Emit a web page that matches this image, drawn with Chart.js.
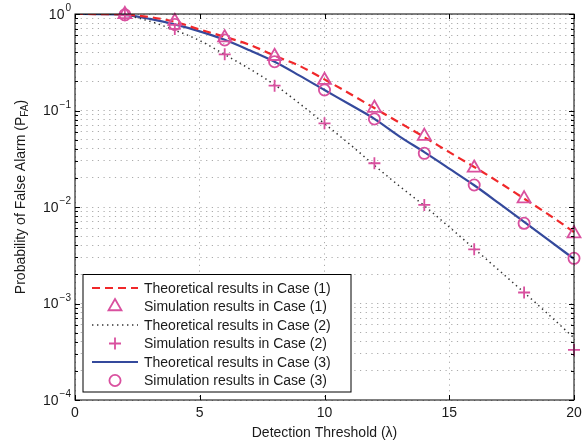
<!DOCTYPE html>
<html>
<head>
<meta charset="utf-8">
<script src="https://cdn.jsdelivr.net/npm/chart.js@4.4.0/dist/chart.umd.min.js"></script>
<style>
    html, body { margin: 0; padding: 0; background: #fff; }
    #wrap { width: 588px; height: 447px; }
</style>
</head>
<body>
<div id="wrap"><canvas id="pfa-chart"></canvas></div>
<script>
// detection threshold values of the theoretical curves
const thresholds = [0, 1, 2, 3, 4, 5, 6, 7, 8, 9, 10, 11, 12, 13, 14, 15, 16, 17, 18, 19, 20];
const theoryCase1 = [1.0, 0.999, 0.985, 0.93, 0.83, 0.69, 0.58, 0.48, 0.37, 0.29, 0.21, 0.15, 0.106, 0.075, 0.053, 0.037, 0.026, 0.018, 0.0122, 0.0083, 0.0055];
const theoryCase2 = [1.0, 0.999, 0.97, 0.84, 0.68, 0.53, 0.38, 0.27, 0.185, 0.118, 0.073, 0.045, 0.027, 0.0165, 0.0103, 0.0062, 0.0037, 0.0022, 0.0013, 0.00076, 0.00044];
const theoryCase3 = [1.0, 0.998, 0.98, 0.89, 0.78, 0.66, 0.54, 0.42, 0.32, 0.23, 0.163, 0.116, 0.082, 0.054, 0.037, 0.025, 0.0168, 0.0109, 0.0070, 0.0045, 0.0029];

// simulation points
const simThresholds = [2, 4, 6, 8, 10, 12, 14, 16, 18, 20];
const simCase1 = [0.99, 0.842, 0.569, 0.365, 0.206, 0.106, 0.0542, 0.0254, 0.0122, 0.0053];
const simCase2 = [0.97, 0.70, 0.382, 0.181, 0.0737, 0.0284, 0.0105, 0.00364, 0.0013, 0.00033];
const simCase3 = [0.98, 0.78, 0.538, 0.32, 0.163, 0.0817, 0.036, 0.0169, 0.00678, 0.00294];

const xTicks = [0, 5, 10, 15, 20];
const yDecades = [-4, -3, -2, -1, 0];

const legendLabels = [
    'Theoretical results in Case (1)',
    'Simulation results in Case (1)',
    'Theoretical results in Case (2)',
    'Simulation results in Case (2)',
    'Theoretical results in Case (3)',
    'Simulation results in Case (3)'
];

const FONT = "'Liberation Sans', Arial, Helvetica, sans-serif";
const RED = '#f0282a';
const BLUE = '#34499c';
const PINK = '#d9509f';
const DOTS = '#333333';

function pairs(xs, ys) {
    return xs.map((x, i) => ({ x: x, y: ys[i] }));
}

let lineSet = (label, values, color, dash, width) => ({
    label: label,
    data: pairs(thresholds, values),
    borderColor: color,
    borderWidth: width,
    borderDash: dash,
    pointRadius: 0,
    fill: false,
    cubicInterpolationMode: 'monotone',
    order: 2
});
let markerSet = (label, values, style, radius) => ({
    label: label,
    data: pairs(simThresholds, values),
    showLine: false,
    pointStyle: style,
    pointRadius: radius,
    pointBorderWidth: 1.8,
    pointBorderColor: PINK,
    pointBackgroundColor: 'rgba(0,0,0,0)',
    borderColor: PINK,
    clip: false,
    order: 1
});

const datasets = [
    lineSet(legendLabels[0], theoryCase1, RED, [8, 5], 2.2),
    markerSet(legendLabels[1], simCase1, 'triangle', 7.5),
    lineSet(legendLabels[2], theoryCase2, DOTS, [1.4, 3.6], 1.5),
    markerSet(legendLabels[3], simCase2, 'cross', 6),
    lineSet(legendLabels[4], theoryCase3, BLUE, [], 2.2),
    markerSet(legendLabels[5], simCase3, 'circle', 5.6)
];

function drawMarker(ctx, style, x, y, r) {
    ctx.beginPath();
    if (style === 'triangle') {
        ctx.moveTo(x, y - r);
        ctx.lineTo(x + r * Math.sin(2 * Math.PI / 3), y + r / 2);
        ctx.lineTo(x - r * Math.sin(2 * Math.PI / 3), y + r / 2);
        ctx.closePath();
    } else if (style === 'cross') {
        ctx.moveTo(x - r, y); ctx.lineTo(x + r, y);
        ctx.moveTo(x, y - r); ctx.lineTo(x, y + r);
    } else {
        ctx.arc(x, y, r, 0, Math.PI * 2);
    }
    ctx.stroke();
}

const decorations = {
    id: 'decorations',
    afterDraw(chart) {
        const ctx = chart.ctx;
        const a = chart.chartArea;
        const xs = chart.scales.x;
        const ys = chart.scales.y;
        ctx.save();

        // frame and inner tick marks
        ctx.strokeStyle = '#000';
        ctx.lineWidth = 1;
        ctx.setLineDash([]);
        ctx.strokeRect(a.left, a.top, a.right - a.left, a.bottom - a.top);
        ctx.beginPath();
        xTicks.forEach(v => {
            let px = Math.round(xs.getPixelForValue(v)) + 0.5;
            ctx.moveTo(px, a.bottom); ctx.lineTo(px, a.bottom - 5);
            ctx.moveTo(px, a.top); ctx.lineTo(px, a.top + 5);
        });
        ys.ticks.forEach(t => {
            let lg = Math.log10(t.value);
            let len = Math.abs(lg - Math.round(lg)) < 1e-6 ? 5 : 3;
            let py = Math.round(ys.getPixelForValue(t.value)) + 0.5;
            ctx.moveTo(a.left, py); ctx.lineTo(a.left + len, py);
            ctx.moveTo(a.right, py); ctx.lineTo(a.right - len, py);
        });
        ctx.stroke();

        // x tick labels
        ctx.fillStyle = '#1a1a1a';
        ctx.font = '14px ' + FONT;
        ctx.textAlign = 'center';
        ctx.textBaseline = 'middle';
        xTicks.forEach(v => ctx.fillText(String(v), xs.getPixelForValue(v), a.bottom + 13));

        // y tick labels 10^k
        yDecades.forEach(k => {
            let py = ys.getPixelForValue(Math.pow(10, k));
            let sup = k === 0 ? '0' : '\u2212' + Math.abs(k);
            ctx.font = '10px ' + FONT;
            let supW = ctx.measureText(sup).width;
            let right = a.left - 4;
            ctx.textAlign = 'left';
            ctx.textBaseline = 'alphabetic';
            ctx.fillText(sup, right - supW, py - 3);
            ctx.font = '14px ' + FONT;
            ctx.textAlign = 'right';
            ctx.textBaseline = 'middle';
            ctx.fillText('10', right - supW - 1, py + 1);
        });

        // axis titles
        ctx.font = '14px ' + FONT;
        ctx.textAlign = 'center';
        ctx.textBaseline = 'middle';
        ctx.fillText('Detection Threshold (\u03bb)', (a.left + a.right) / 2, a.bottom + 33);

        ctx.save();
        ctx.translate(21, (a.top + a.bottom) / 2 - 10);
        ctx.rotate(-Math.PI / 2);
        ctx.textBaseline = 'middle';
        ctx.textAlign = 'left';
        const partA = 'Probability of False Alarm (P';
        const partB = 'FA';
        const partC = ')';
        ctx.font = '14px ' + FONT;
        let wA = ctx.measureText(partA).width;
        let wC = ctx.measureText(partC).width;
        ctx.font = '10px ' + FONT;
        let wB = ctx.measureText(partB).width;
        let x0 = -(wA + wB + wC) / 2;
        ctx.font = '14px ' + FONT;
        ctx.fillText(partA, x0, 0);
        ctx.font = '10px ' + FONT;
        ctx.fillText(partB, x0 + wA, 4);
        ctx.font = '14px ' + FONT;
        ctx.fillText(partC, x0 + wA + wB, 0);
        ctx.restore();

        // legend box
        let bx = a.left + 8, by = a.bottom - 125.5, bw = 268, bh = 117.5;
        ctx.fillStyle = '#fff';
        ctx.fillRect(bx, by, bw, bh);
        ctx.strokeStyle = '#000';
        ctx.lineWidth = 1;
        ctx.strokeRect(bx, by, bw, bh);
        chart.data.datasets.forEach((ds, i) => {
            let ry = by + 13.5 + i * 18.5;
            ctx.strokeStyle = ds.borderColor;
            if (ds.showLine === false) {
                ctx.lineWidth = ds.pointBorderWidth;
                ctx.setLineDash([]);
                drawMarker(ctx, ds.pointStyle, bx + 32, ry, ds.pointRadius);
            } else {
                ctx.lineWidth = ds.borderWidth;
                ctx.setLineDash(ds.borderDash);
                ctx.beginPath();
                ctx.moveTo(bx + 9, ry);
                ctx.lineTo(bx + 55, ry);
                ctx.stroke();
            }
            ctx.setLineDash([]);
            ctx.fillStyle = '#1a1a1a';
            ctx.font = '14px ' + FONT;
            ctx.textAlign = 'left';
            ctx.textBaseline = 'middle';
            ctx.fillText(ds.label, bx + 61, ry + 1);
        });
        ctx.restore();
    }
};

new Chart(document.getElementById('pfa-chart'), {
    type: 'line',
    data: { datasets: datasets },
    options: {
        responsive: true,
        maintainAspectRatio: false,
        animation: false,
        events: [],
        layout: { padding: { left: 75, right: 14, top: 14, bottom: 47 } },
        plugins: {
            legend: { display: false },
            tooltip: { enabled: false }
        },
        scales: {
            x: {
                type: 'linear',
                min: 0,
                max: 20,
                afterBuildTicks: scale => { scale.ticks = xTicks.map(v => ({ value: v })); },
                ticks: { display: false },
                grid: { color: '#ababab', lineWidth: 1, drawTicks: false },
                border: { display: false, dash: [1.2, 4.5] }
            },
            y: {
                type: 'logarithmic',
                min: 1e-4,
                max: 1,
                afterBuildTicks: scale => {
                    let t = [];
                    yDecades.forEach(k => {
                        for (let m = 1; m <= 9; m++) {
                            let v = m * Math.pow(10, k);
                            if (v <= 1.0000001) t.push({ value: v });
                        }
                    });
                    scale.ticks = t;
                },
                ticks: { display: false },
                grid: { color: '#ababab', lineWidth: 1, drawTicks: false },
                border: { display: false, dash: [1.2, 4.5] }
            }
        }
    },
    plugins: [decorations]
});
</script>
</body>
</html>
